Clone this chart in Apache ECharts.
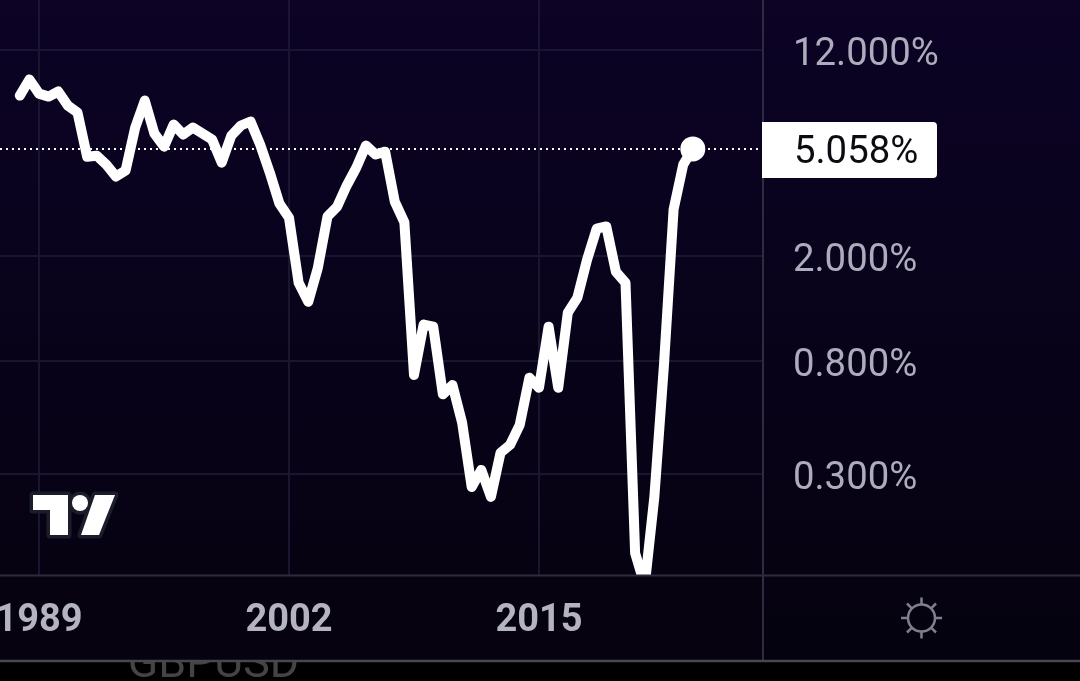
<!DOCTYPE html>
<html><head><meta charset="utf-8">
<style>html,body{margin:0;padding:0;background:#000;}#c{width:1080px;height:681px;}</style>
<script src="https://cdn.jsdelivr.net/npm/echarts@6/dist/echarts.min.js"></script>
</head><body><div id="c"></div>
<script>
const startYear = 1988;
const yearStep = 0.5;
const yields = [8.04,9.25,8.18,7.97,8.33,7.37,6.94,4.73,4.77,4.41,3.98,4.19,6.09,7.70,5.78,5.16,6.25,5.73,6.09,5.78,5.49,4.49,5.68,6.20,6.42,5.25,4.12,3.15,2.78,1.58,1.34,1.80,2.81,3.06,3.68,4.30,5.21,4.82,4.94,3.20,2.67,0.71,1.10,1.08,0.60,0.65,0.47,0.268,0.311,0.246,0.361,0.387,0.46,0.693,0.635,1.08,0.635,1.22,1.39,1.93,2.53,2.58,1.74,1.58,0.151,0.114,0.246,0.775,2.99,4.41,5.058];
const lastValue = 5.058;
const yearTicks = [1989,2002,2015];
const yieldTicks = [0.3,0.8,2,12];
const points = yields.map((v,i)=>[startYear+i*yearStep,v]);
const gridCol='#191630', axisCol='#2f2c41', labelCol='#adacbc';
const chart = echarts.init(document.getElementById('c'),null,{renderer:'canvas'});

function line(x1,y1,x2,y2,col,w,z){return {type:'line',z:z,silent:true,shape:{x1,y1,x2,y2},style:{stroke:col,lineWidth:w,lineCap:'butt'}};}
const g=[];
g.push({type:'text',z:-2,silent:true,style:{text:'GBPUSD',x:213.5,y:688,align:'center',verticalAlign:'bottom',font:'400 44.7px Roboto',fill:'#444444'}});
g.push({type:'rect',z:-1,silent:true,shape:{x:0,y:0,width:1080,height:660},style:{fill:new echarts.graphic.LinearGradient(0,0,0,1,[{offset:0,color:'#0c0325'},{offset:1,color:'#05020f'}])}});
g.push(line(763,0,763,660,axisCol,2,1));
g.push({type:'rect',z:1,silent:true,shape:{x:762,y:122,width:175,height:56,r:[0,4,4,0]},style:{fill:'#ffffff'}});
// cover below the pane so the line is cut at the axis
g.push({type:'rect',z:5,silent:true,shape:{x:0,y:575,width:762,height:85},style:{fill:'#06020f'}});
g.push(line(0,575.5,1080,575.5,axisCol,2,6));
g.push(line(0,661,1080,661,'#48464f',2.5,6));
// logo
const tPts=[[33,495],[68,495],[68,535],[50,535],[50,510],[33,510]];
const sPts=[[95,495],[115,495],[99,535],[81,535]];
[['#1b1d2a',7],['#ffffff',0]].forEach(([c,w],k)=>{
  const st={fill:c,stroke:w?c:null,lineWidth:w,lineJoin:'round'};
  g.push({type:'polygon',z:7+k,silent:true,shape:{points:tPts},style:st});
  g.push({type:'polygon',z:7+k,silent:true,shape:{points:sPts},style:st});
  g.push({type:'circle',z:7+k,silent:true,shape:{cx:80,cy:503,r:8},style:st});
});
// gear
const gx=921.5,gy=618;
g.push({type:'circle',z:7,silent:true,shape:{cx:gx,cy:gy,r:13.5},style:{fill:'transparent',stroke:'#807f8e',lineWidth:2.5}});
for(let i=0;i<8;i++){const a=i*Math.PI/4,r1=14,r2=20.5;
  g.push(line(gx+r1*Math.cos(a),gy+r1*Math.sin(a),gx+r2*Math.cos(a),gy+r2*Math.sin(a),'#807f8e',2.5,7));}

chart.setOption({
  animation:false,
  backgroundColor:'transparent',
  grid:{left:0,right:317,top:0,bottom:106,containLabel:false,outerBoundsMode:'none'},
  graphic:{elements:g},
  xAxis:[
   {type:'value',min:1986.97,max:2026.65,z:0,position:'bottom',
    axisLine:{show:false},
    axisTick:{show:false,customValues:yearTicks},
    splitLine:{show:true,lineStyle:{color:gridCol,width:2}},
    axisLabel:{show:false,customValues:yearTicks}},
   {type:'value',min:1986.97,max:2026.65,z:10,position:'bottom',
    axisLine:{show:false},
    axisTick:{show:false,customValues:yearTicks},
    splitLine:{show:false},
    axisLabel:{customValues:yearTicks,formatter:v=>String(v),margin:27,color:'#b3b3c1',fontFamily:'Roboto',fontWeight:700,fontSize:38,hideOverlap:false}}],
  yAxis:{type:'log',logBase:10,position:'right',min:0.1248,max:18.45,z:0,
    axisLine:{show:false},
    axisTick:{show:false,customValues:yieldTicks},
    splitLine:{show:true,lineStyle:{color:gridCol,width:2}},
    axisLabel:{customValues:yieldTicks,formatter:v=>Number(v).toFixed(3)+'%',margin:30,align:'left',verticalAlign:'top',lineHeight:11,color:labelCol,fontFamily:'Roboto',fontSize:38.3}},
  series:[{type:'line',data:points,xAxisIndex:0,showSymbol:false,symbol:'none',z:2,
    lineStyle:{color:'#fff',width:10,cap:'round',join:'round'},
    markLine:{silent:true,symbol:'none',animation:false,
      lineStyle:{color:'#fff',type:[2,4],width:2},
      label:{show:true,position:'end',distance:31,offset:[0,5],formatter:()=>lastValue.toFixed(3)+'%',color:'#0b0b12',fontFamily:'Roboto',fontSize:38.3},
      data:[{yAxis:lastValue}]},
    markPoint:{silent:true,symbol:'circle',symbolSize:25,itemStyle:{color:'#fff'},label:{show:false},animation:false,
      data:[{coord:[startYear+(yields.length-1)*yearStep,lastValue]}]}
  }]
});
</script></body></html>
